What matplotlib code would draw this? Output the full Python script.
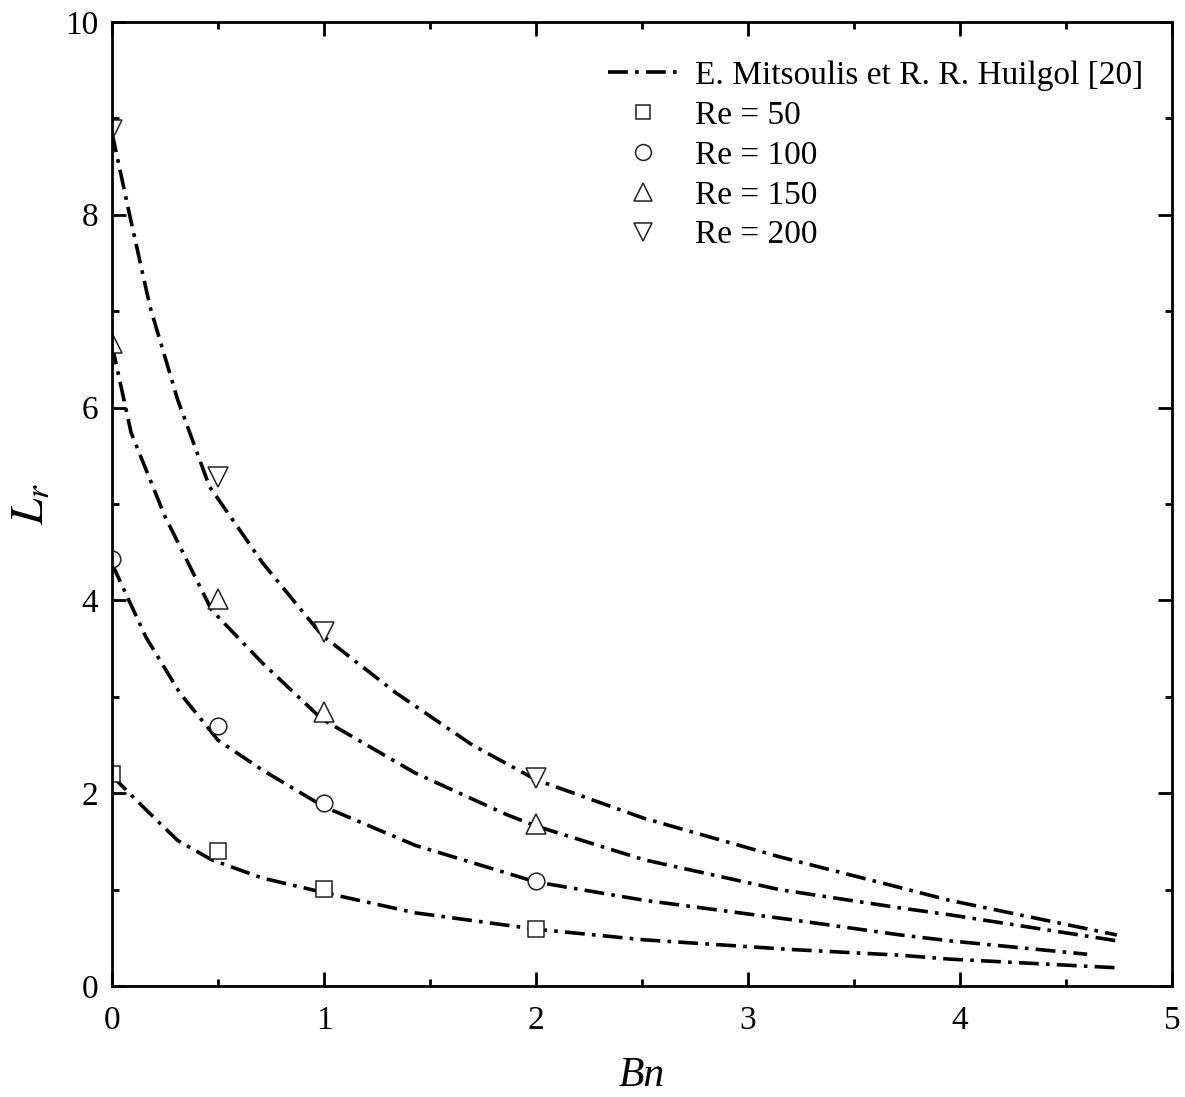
import matplotlib
matplotlib.use('Agg')
import matplotlib.pyplot as plt
import numpy as np

plt.rcParams['font.family'] = ['Liberation Serif', 'DejaVu Serif']
plt.rcParams['mathtext.fontset'] = 'stix'

# Simulations (markers)
bn_pts = [0, 0.5, 1, 2]
re50_pts = [2.20, 1.40, 1.01, 0.59]
re100_pts = [4.43, 2.70, 1.90, 1.09]
re150_pts = [6.67, 4.01, 2.84, 1.68]
re200_pts = [8.88, 5.28, 3.67, 2.16]

# Reference curves (E. Mitsoulis et R. R. Huilgol [20])
bn_50 = [0, 0.16, 0.31, 0.47, 0.71, 1.0, 1.43, 2.0, 2.51, 3.2, 3.72, 3.95, 4.74]
lr_50 = [2.18, 1.83, 1.51, 1.31, 1.12, 0.97, 0.76, 0.59, 0.48, 0.38, 0.32, 0.28, 0.19]
bn_100 = [0, 0.16, 0.32, 0.5, 0.71, 1.0, 1.43, 2.0, 2.51, 3.2, 3.72, 3.95, 4.6]
lr_100 = [4.38, 3.62, 3.04, 2.55, 2.24, 1.86, 1.46, 1.08, 0.89, 0.69, 0.53, 0.47, 0.33]
bn_150 = [0, 0.09, 0.25, 0.47, 0.71, 0.99, 1.43, 1.86, 2.0, 2.51, 3.15, 3.72, 3.95, 4.74]
lr_150 = [6.65, 5.74, 4.87, 3.90, 3.35, 2.77, 2.21, 1.78, 1.66, 1.31, 1.00, 0.81, 0.74, 0.47]
bn_200 = [0, 0.085, 0.18, 0.31, 0.46, 0.71, 0.99, 1.34, 1.70, 2.0, 2.51, 3.15, 3.72, 3.95, 4.74]
lr_200 = [8.85, 7.98, 7.04, 6.08, 5.18, 4.39, 3.64, 3.04, 2.50, 2.14, 1.74, 1.34, 1.02, 0.89, 0.53]

fig = plt.figure(figsize=(11.85, 10.97), dpi=100)
ax = fig.add_axes([0.0945, 0.1011, 0.8945, 0.879])

dash = (5.5, 2, 1, 2)
curves = [(bn_50, lr_50), (bn_100, lr_100), (bn_150, lr_150), (bn_200, lr_200)]
for i, (b, l) in enumerate(curves):
    ax.plot(b, l, color='black', lw=2.6, dashes=dash,
            label='E. Mitsoulis et R. R. Huilgol [20]' if i == 0 else None)

mk = dict(ls='none', mfc='white', mec='#222222', mew=1.1)
ax.plot(bn_pts, re50_pts, marker='s', ms=11, label='Re = 50', **mk)
ax.plot(bn_pts, re100_pts, marker='o', ms=12, label='Re = 100', **mk)
ax.plot(bn_pts, re150_pts, marker='^', ms=14, label='Re = 150', **mk)
ax.plot(bn_pts, re200_pts, marker='v', ms=14, label='Re = 200', **mk)

ax.set_xlim(0, 5)
ax.set_ylim(0, 10)
ax.set_xticks([0, 1, 2, 3, 4, 5])
ax.set_xticks(np.arange(0.5, 5, 1), minor=True)
ax.set_yticks([0, 2, 4, 6, 8, 10])
ax.set_yticks(np.arange(1, 10, 2), minor=True)
ax.tick_params(which='both', direction='in', top=True, right=True, width=2)
ax.tick_params(which='major', length=10, labelsize=24)
ax.tick_params(which='minor', length=5)
ax.tick_params(axis='x', pad=14)
ax.tick_params(axis='y', pad=10)
for s in ax.spines.values():
    s.set_linewidth(2)

ax.set_xlabel('Bn', fontsize=30, fontstyle='italic', labelpad=15)
ax.set_ylabel('$L_r$', fontsize=34, labelpad=8)

ax.legend(loc='upper right', bbox_to_anchor=(0.995, 0.984), frameon=False,
          fontsize=24, handlelength=2.1, labelspacing=0.28, handletextpad=0.5,
          borderaxespad=0.3, markerscale=0.95)

fig.savefig('out.png', dpi=100)
